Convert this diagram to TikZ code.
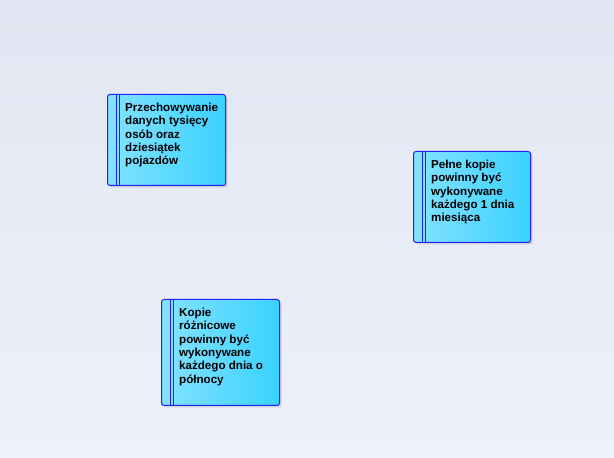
\documentclass[tikz,border=0pt]{standalone}
\usepackage{fontspec}
\setmainfont{Liberation Sans}
\usetikzlibrary{shadows}
\definecolor{bgtop}{HTML}{E1E6F2}
\definecolor{bgbot}{HTML}{EEF1F9}
\definecolor{boxl}{HTML}{84E2FF}
\definecolor{boxr}{HTML}{3AD2FF}
\definecolor{boxline}{HTML}{2323F0}
\tikzset{
  reqbox/.style={rectangle, anchor=north west, rounded corners=2.5pt, draw=boxline, line width=1pt,
    left color=boxl, right color=boxr, inner sep=0pt,
    drop shadow={shadow xshift=2pt, shadow yshift=-2pt, fill=black, opacity=0.12}},
  reqbar/.style={draw=boxline, line width=0.9pt},
  reqtext/.style={anchor=north west, align=left, inner sep=0pt, text=black,
    font=\fontsize{11.6}{13.3}\selectfont\bfseries}
}
\begin{document}
\begin{tikzpicture}[x=1pt,y=1pt]
\shade[top color=bgtop, bottom color=bgbot] (0,0) rectangle (614,458);
\useasboundingbox (0,0) rectangle (614,458);
% box 1
\node[reqbox, minimum width=118pt, minimum height=91pt] (r1) at (107,364) {};
\draw[reqbar] ([xshift=9pt]r1.north west) -- ([xshift=9pt]r1.south west);
\draw[reqbar] ([xshift=12pt]r1.north west) -- ([xshift=12pt]r1.south west);
\node[reqtext] (t1) at ([xshift=18pt,yshift=-9pt]r1.north west) {Przechowywanie\\danych tysięcy\\osób oraz\\dziesiątek\\pojazdów};
% box 2
\node[reqbox, minimum width=117pt, minimum height=91pt] (r2) at (413,307) {};
\draw[reqbar] ([xshift=9pt]r2.north west) -- ([xshift=9pt]r2.south west);
\draw[reqbar] ([xshift=12pt]r2.north west) -- ([xshift=12pt]r2.south west);
\node[reqtext] (t2) at ([xshift=18pt,yshift=-9pt]r2.north west) {Pełne kopie\\powinny być\\wykonywane\\każdego 1 dnia\\miesiąca};
% box 3
\node[reqbox, minimum width=118pt, minimum height=106pt] (r3) at (161,159) {};
\draw[reqbar] ([xshift=9pt]r3.north west) -- ([xshift=9pt]r3.south west);
\draw[reqbar] ([xshift=12pt]r3.north west) -- ([xshift=12pt]r3.south west);
\node[reqtext] (t3) at ([xshift=18pt,yshift=-9pt]r3.north west) {Kopie\\różnicowe\\powinny być\\wykonywane\\każdego dnia o\\północy};
\end{tikzpicture}
\end{document}
